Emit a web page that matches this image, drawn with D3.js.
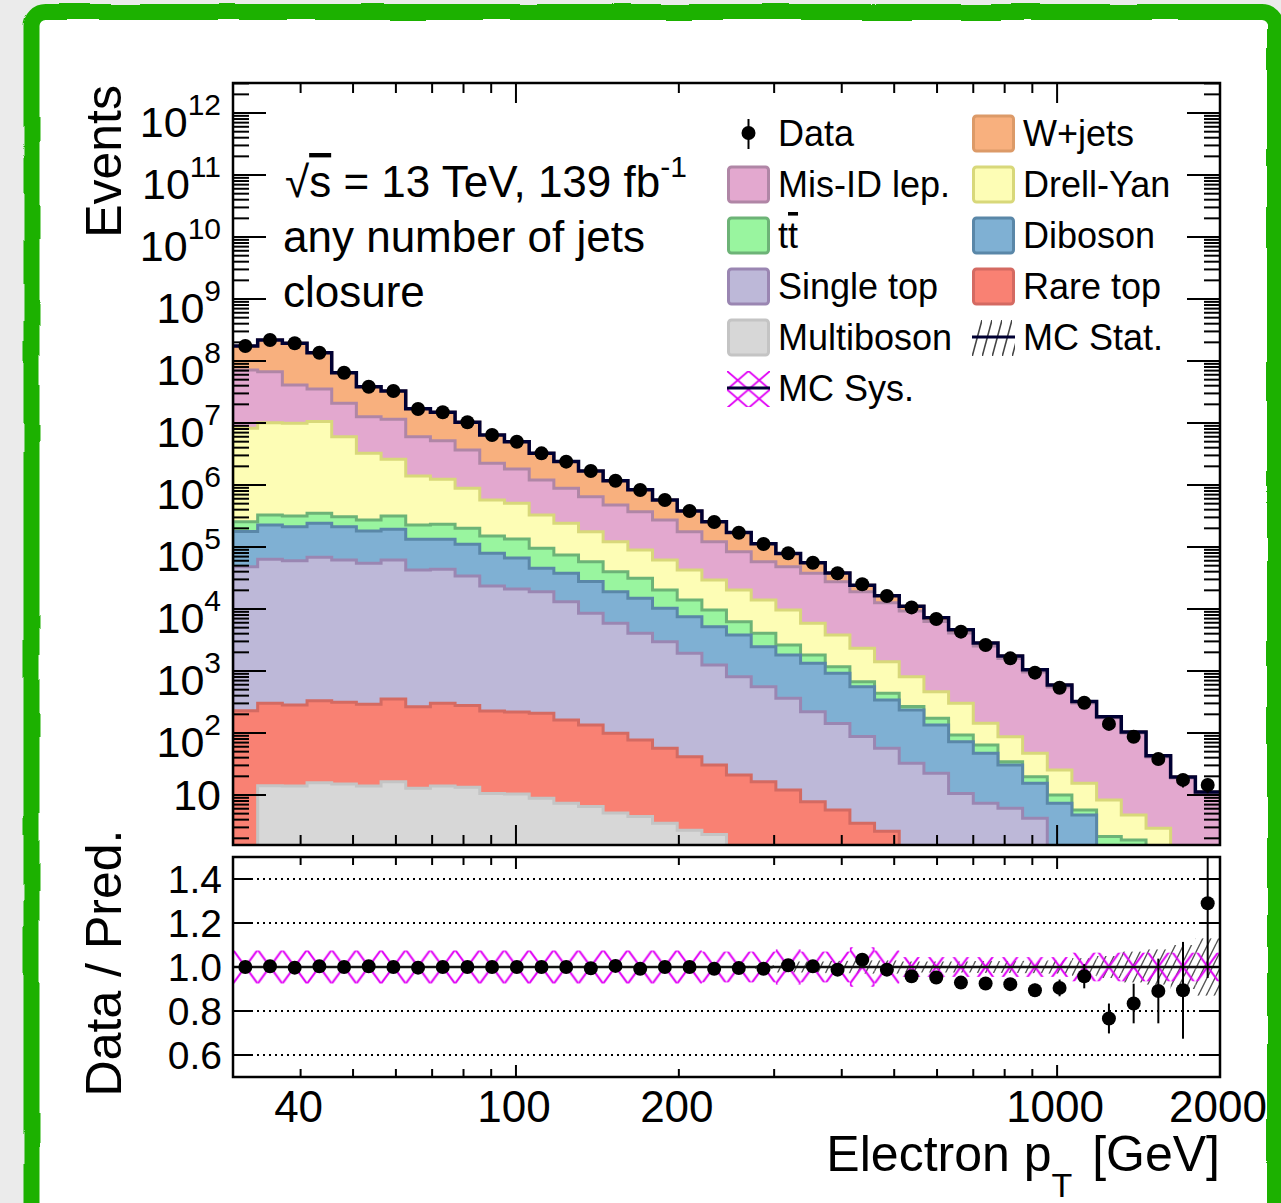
<!DOCTYPE html>
<html>
<head>
<meta charset="utf-8">
<script src="https://cdn.jsdelivr.net/npm/d3@7"></script>
<style>
    body { margin: 0; background: #ebebeb; }
    svg { display: block; font-family: 'Liberation Sans', Arial, Helvetica, sans-serif; }
</style>
</head>
<body>
<div id="graf"></div>
<script>
// Bordes de los 40 bines (GeV)
const bordes = [30.0, 33.32, 37.01, 41.11, 45.66, 50.71, 56.33, 62.56, 69.49, 77.18, 85.72, 95.22, 105.8, 117.5, 130.5, 144.9, 161.0, 178.8, 198.6, 220.6, 244.9, 272.1, 302.2, 335.7, 372.8, 414.1, 459.9, 510.8, 567.4, 630.2, 700.0, 777.5, 863.5, 959.1, 1065, 1183, 1314, 1460, 1621, 1801, 2000]

// Datos observados por bin
const datos = [1.75e8, 2.18e8, 1.93e8, 1.36e8, 6.47e7, 3.85e7, 3.28e7, 1.68e7, 1.49e7, 1.03e7, 6.40e6, 4.99e6, 3.24e6, 2.38e6, 1.68e6, 1.17e6, 8.30e5, 5.73e5, 3.81e5, 2.53e5, 1.70e5, 1.12e5, 7.91e4, 5.58e4, 3.77e4, 2.50e4, 1.62e4, 1.06e4, 6900, 4310, 2620, 1600, 940, 538, 308, 140, 87, 38, 17.5, 14.5]

// Fondos (de abajo hacia arriba en el stack)
const multiboson = [1.2, 14.1, 14.0, 15.8, 15.0, 14.0, 16.4, 12.8, 14.0, 13.3, 10.6, 10.4, 8.85, 7.35, 6.5, 5.1, 4.5, 3.5, 2.7, 2.3, 0, 0, 0, 0, 0, 0, 0, 0, 0, 0, 0, 0, 0, 0, 0, 0, 0, 0, 0, 0]
const rareTop = [228, 287, 269, 316, 298, 276, 337, 253, 287, 263, 216, 208, 199, 155, 128, 94, 72.6, 53.1, 38.8, 28.2, 21.0, 16.4, 12.0, 7.8, 5.7, 3.5, 2.6, 0, 0, 0, 0, 0, 0, 0, 0, 0, 0, 0, 0, 0]
const singleTop = [4.79e4, 6.30e4, 5.98e4, 6.79e4, 6.14e4, 5.43e4, 6.13e4, 4.23e4, 4.34e4, 3.37e4, 2.33e4, 2.08e4, 1.88e4, 1.29e4, 8400, 5780, 3980, 2910, 1890, 1220, 788, 542, 351, 213, 137, 84, 54, 32.5, 22.4, 10.6, 7.35, 6.1, 4.2, 0, 0, 0, 0, 0, 0, 0]
const diboson = [1.29e5, 1.63e5, 1.52e5, 1.73e5, 1.50e5, 1.26e5, 1.31e5, 9.04e4, 8.93e4, 7.70e4, 5.56e4, 4.55e4, 2.63e4, 2.46e4, 1.91e4, 1.31e4, 1.08e4, 7300, 5580, 3940, 3000, 1910, 1450, 1110, 775, 471, 284, 203, 112, 61.8, 39.8, 24.4, 11.2, 7.35, 4.76, 0, 0, 0, 0, 0]
const ttbar = [7.9e4, 1.02e5, 1.04e5, 1.09e5, 9.6e4, 9.1e4, 1.23e5, 9.3e4, 9.9e4, 8.9e4, 7.1e4, 6.85e4, 5.0e4, 3.66e4, 3.03e4, 2.1e4, 1.64e4, 9900, 6500, 4450, 2430, 1590, 810, 480, 252, 114, 96, 31, 38, 20.5, 16.9, 3.9, 4.3, 2.65, 0.97, 2.13, 1.88, 0, 0, 0]
const drellYan = [7.96e6, 9.77e6, 9.57e6, 1.02e7, 5.70e6, 2.97e6, 2.28e6, 1.17e6, 1.01e6, 6.85e5, 4.23e5, 3.72e5, 2.33e5, 1.67e5, 1.19e5, 8.2e4, 5.82e4, 4.15e4, 2.86e4, 1.98e4, 1.40e4, 9940, 7020, 4070, 2640, 1650, 973, 543, 291, 208, 79, 52.8, 27.4, 15.3, 9.7, 6.2, 2.88, 2.9, 0, 0]
const misID = [6.34e7, 5.71e7, 3.11e7, 2.48e7, 1.48e7, 9.36e6, 8.9e6, 4.61e6, 3.95e6, 2.79e6, 1.67e6, 1.30e6, 8.72e5, 6.44e5, 4.70e5, 3.54e5, 2.82e5, 2.10e5, 1.34e5, 9.26e4, 6.38e4, 4.39e4, 3.85e4, 3.18e4, 2.38e4, 1.67e4, 1.12e4, 8480, 5830, 3800, 2390, 1500, 917, 527, 290, 167, 95, 38.1, 18.8, 11.0]
const wJets = [1.03e8, 1.50e8, 1.53e8, 1.01e8, 4.39e7, 2.58e7, 2.13e7, 1.09e7, 9.71e6, 6.63e6, 4.16e6, 3.18e6, 2.04e6, 1.50e6, 1.04e6, 6.94e5, 4.66e5, 3.01e5, 2.04e5, 1.33e5, 8.7e4, 5.51e4, 3.04e4, 1.79e4, 1.06e4, 5200, 3800, 1800, 960, 540, 300, 150, 86, 42, 17, 8, 4, 1.8, 0.7, 0.2]

// Panel inferior: cociente datos / predicción y sus incertidumbres
const cociente = [1.0, 1.003, 0.997, 1.003, 1.0, 1.003, 1.0, 0.997, 1.0, 1.0, 1.0, 1.0, 1.0, 1.0, 0.994, 1.005, 0.992, 1.0, 1.0, 0.992, 0.995, 0.992, 1.008, 1.003, 0.988, 1.033, 0.988, 0.958, 0.952, 0.929, 0.925, 0.922, 0.894, 0.905, 0.958, 0.766, 0.834, 0.891, 0.894, 1.290]
const errCociente = [0.001, 0.001, 0.001, 0.001, 0.001, 0.001, 0.001, 0.001, 0.001, 0.001, 0.001, 0.001, 0.001, 0.001, 0.001, 0.001, 0.001, 0.002, 0.002, 0.002, 0.003, 0.004, 0.005, 0.006, 0.007, 0.009, 0.010, 0.012, 0.014, 0.016, 0.02, 0.025, 0.03, 0.038, 0.055, 0.068, 0.09, 0.147, 0.22, 0.34]
const estMC = [0.003, 0.003, 0.003, 0.003, 0.003, 0.003, 0.003, 0.003, 0.003, 0.003, 0.003, 0.003, 0.003, 0.003, 0.003, 0.003, 0.003, 0.004, 0.004, 0.004, 0.005, 0.008, 0.025, 0.025, 0.028, 0.03, 0.03, 0.025, 0.025, 0.025, 0.027, 0.027, 0.028, 0.03, 0.04, 0.05, 0.07, 0.08, 0.10, 0.13]
const sistMC = [0.075, 0.075, 0.075, 0.075, 0.075, 0.075, 0.075, 0.075, 0.075, 0.075, 0.075, 0.075, 0.075, 0.075, 0.075, 0.075, 0.075, 0.075, 0.075, 0.07, 0.07, 0.07, 0.08, 0.07, 0.07, 0.09, 0.075, 0.045, 0.045, 0.045, 0.045, 0.045, 0.045, 0.045, 0.065, 0.065, 0.065, 0.065, 0.065, 0.065]

// Ejes
const ticksX = [40, 50, 60, 70, 80, 90, 100, 200, 300, 400, 500, 600, 700, 800, 900, 1000, 2000]
const mayoresX = [100, 1000]
const etiquetasX = [40, 100, 200, 1000, 2000]
const exponentesY = [1, 2, 3, 4, 5, 6, 7, 8, 9, 10, 11, 12]
const etiquetasCociente = [0.6, 0.8, 1.0, 1.2, 1.4]
const rejillaCociente = [0.6, 0.8, 1.2, 1.4]

// Procesos del stack con sus colores
const procesos = [
    { nombre: 'Multiboson', valores: multiboson, relleno: '#d7d7d7', linea: '#c4c4c4' },
    { nombre: 'Rare top', valores: rareTop, relleno: '#f98173', linea: '#d46a62' },
    { nombre: 'Single top', valores: singleTop, relleno: '#bdb8d8', linea: '#9a86b2' },
    { nombre: 'Diboson', valores: diboson, relleno: '#7fb0d3', linea: '#5a87a8' },
    { nombre: 'tt', valores: ttbar, relleno: '#99f59f', linea: '#6db377' },
    { nombre: 'Drell-Yan', valores: drellYan, relleno: '#fdfdb5', linea: '#d8d87a' },
    { nombre: 'Mis-ID lep.', valores: misID, relleno: '#e3a8cf', linea: '#b086a6' },
    { nombre: 'W+jets', valores: wJets, relleno: '#f8b07e', linea: '#dc9a68' }
]

function load() {
    const ancho = 1281
    const alto = 1203
    const izq = 233, der = 1220
    const arriba = 83, abajo = 845
    const rArriba = 857, rAbajo = 1077
    const yMin = 1.56
    const radio = 7

    const svg = d3.select('#graf')
        .append('svg')
        .attr('width', ancho)
        .attr('height', alto)

    const defs = svg.append('defs')

    // Filtro para el borde ondulado
    const filtro = defs.append('filter').attr('id', 'temblor')
        .attr('x', '-5%').attr('y', '-5%').attr('width', '110%').attr('height', '110%')
    filtro.append('feTurbulence').attr('type', 'fractalNoise').attr('baseFrequency', 0.02)
        .attr('numOctaves', 1).attr('seed', 4).attr('result', 'ruido')
    filtro.append('feDisplacementMap').attr('in', 'SourceGraphic').attr('in2', 'ruido')
        .attr('scale', 4).attr('xChannelSelector', 'R').attr('yChannelSelector', 'G')

    defs.append('clipPath').attr('id', 'clipSup').append('rect')
        .attr('x', izq).attr('y', arriba).attr('width', der - izq).attr('height', abajo - arriba)
    defs.append('clipPath').attr('id', 'clipRat').append('rect')
        .attr('x', izq).attr('y', rArriba).attr('width', der - izq).attr('height', rAbajo - rArriba)

    // Patrones de las bandas de incertidumbre
    const cruz = defs.append('pattern').attr('id', 'cruz').attr('patternUnits', 'userSpaceOnUse')
        .attr('x', izq).attr('y', 949.7).attr('width', 24.675).attr('height', 34)
    cruz.append('path').attr('d', 'M0,0L24.675,34M0,34L24.675,0')
        .attr('stroke', '#e000f5').attr('stroke-width', 2).attr('fill', 'none')

    const rayas = defs.append('pattern').attr('id', 'rayas').attr('patternUnits', 'userSpaceOnUse')
        .attr('width', 8).attr('height', 16)
    rayas.append('path').attr('d', 'M0,16L8,0M-4,8L0,0M8,16L12,8')
        .attr('stroke', '#555').attr('stroke-width', 1.4).attr('fill', 'none')

    const cruzLey = defs.append('pattern').attr('id', 'cruzLey').attr('patternUnits', 'userSpaceOnUse')
        .attr('x', 727).attr('y', 371).attr('width', 21.5).attr('height', 18.5)
    cruzLey.append('path').attr('d', 'M0,0L21.5,18.5M0,18.5L21.5,0')
        .attr('stroke', '#e000f5').attr('stroke-width', 1.8).attr('fill', 'none')

    const rayasLey = defs.append('pattern').attr('id', 'rayasLey').attr('patternUnits', 'userSpaceOnUse')
        .attr('x', 972).attr('y', 320).attr('width', 10).attr('height', 37)
    rayasLey.append('path').attr('d', 'M0,37L10,0')
        .attr('stroke', '#444').attr('stroke-width', 1.6).attr('fill', 'none')

    // Fondo y marco verde
    svg.append('rect').attr('width', ancho).attr('height', alto).attr('fill', '#ebebeb')
    svg.append('rect')
        .attr('x', 31.5).attr('y', 12)
        .attr('width', 1243.5).attr('height', 1260)
        .attr('rx', 14)
        .attr('fill', 'white')
        .attr('stroke', '#1db100')
        .attr('stroke-width', 16)
        .attr('filter', 'url(#temblor)')

    // Escalas
    const x = d3.scaleLog().domain([30, 2000]).range([izq, der])
    const y = d3.scaleLog().domain([yMin, 3.05e12]).range([abajo, arriba])
    const yr = d3.scaleLinear().domain([0.5, 1.5]).range([rAbajo, rArriba])

    // Tabla para el stack
    const tabla = datos.map((d, i) => {
        const fila = {}
        procesos.forEach(p => { fila[p.nombre] = p.valores[i] })
        return fila
    })
    const capas = d3.stack().keys(procesos.map(p => p.nombre))(tabla)

    const yTope = v => v > yMin ? y(v) : abajo + 12
    const escalon = d3.line()
    const puntosCapa = (capa, cerrar) => {
        const pts = cerrar ? [[x(bordes[0]), abajo + 12]] : []
        capa.forEach((d, i) => {
            pts.push([x(bordes[i]), yTope(d[1])])
            pts.push([x(bordes[i + 1]), yTope(d[1])])
        })
        if (cerrar) pts.push([x(bordes[bordes.length - 1]), abajo + 12])
        return pts
    }

    // Histogramas apilados (se dibuja primero el de arriba)
    const gHist = svg.append('g').attr('clip-path', 'url(#clipSup)')
    capas.slice().reverse().forEach(capa => {
        const p = procesos[capa.index]
        gHist.append('path')
            .attr('d', escalon(puntosCapa(capa, true)) + 'Z')
            .attr('fill', p.relleno)
            .attr('stroke', p.linea)
            .attr('stroke-width', 3)
    })

    // Línea del total
    gHist.append('path')
        .attr('d', escalon(puntosCapa(capas[capas.length - 1], false)))
        .attr('fill', 'none')
        .attr('stroke', '#000033')
        .attr('stroke-width', 3.5)

    // Puntos de datos
    const centro = i => x(Math.sqrt(bordes[i] * bordes[i + 1]))
    const gDatos = svg.append('g').attr('clip-path', 'url(#clipSup)')
    datos.forEach((d, i) => {
        const err = d * errCociente[i] / cociente[i]
        gDatos.append('line')
            .attr('x1', centro(i)).attr('x2', centro(i))
            .attr('y1', y(d + err)).attr('y2', y(Math.max(d - err, yMin)))
            .attr('stroke', 'black').attr('stroke-width', 2)
        gDatos.append('circle')
            .attr('cx', centro(i)).attr('cy', y(d))
            .attr('r', radio).attr('fill', 'black')
    })

    // Marco del panel superior
    svg.append('rect')
        .attr('x', izq).attr('y', arriba).attr('width', der - izq).attr('height', abajo - arriba)
        .attr('fill', 'none').attr('stroke', 'black').attr('stroke-width', 2.5)

    // Marcas del eje Y (log)
    const gTicks = svg.append('g').attr('stroke', 'black').attr('stroke-width', 2)
    d3.range(0, 13).forEach(e => {
        d3.range(1, 10).forEach(f => {
            const v = f * Math.pow(10, e)
            if (v < yMin || v > 3.05e12) return
            const largo = f === 1 ? 33 : 16
            gTicks.append('line').attr('x1', izq).attr('x2', izq + largo).attr('y1', y(v)).attr('y2', y(v))
            gTicks.append('line').attr('x1', der).attr('x2', der - largo).attr('y1', y(v)).attr('y2', y(v))
        })
    })

    // Marcas del eje X en ambos paneles
    ticksX.forEach(t => {
        const mayor = mayoresX.includes(t)
        const xs = x(t)
        gTicks.append('line').attr('x1', xs).attr('x2', xs).attr('y1', abajo).attr('y2', abajo - (mayor ? 20 : 10))
        gTicks.append('line').attr('x1', xs).attr('x2', xs).attr('y1', arriba).attr('y2', arriba + (mayor ? 20 : 10))
        gTicks.append('line').attr('x1', xs).attr('x2', xs).attr('y1', rAbajo).attr('y2', rAbajo - (mayor ? 12 : 8))
        gTicks.append('line').attr('x1', xs).attr('x2', xs).attr('y1', rArriba).attr('y2', rArriba + (mayor ? 12 : 8))
    })

    // Etiquetas del eje Y superior
    exponentesY.forEach(e => {
        const t = svg.append('text')
            .attr('x', 221)
            .attr('y', y(Math.pow(10, e)) + (e > 1 ? 24 : 15))
            .attr('text-anchor', 'end')
            .attr('font-size', 43)
        t.append('tspan').text('10')
        if (e > 1) t.append('tspan').attr('dy', -22).attr('font-size', 30).text(e)
    })

    // Título del eje Y
    svg.append('text')
        .attr('transform', `translate(121, ${arriba + 2}) rotate(-90)`)
        .attr('text-anchor', 'end')
        .attr('font-size', 50)
        .text('Events')

    // Textos de la figura
    const info = svg.append('text').attr('x', 285).attr('y', 197).attr('font-size', 44)
    info.append('tspan').text('√')
    info.append('tspan').style('text-decoration', 'overline').text('s')
    info.append('tspan').text(' = 13 TeV, 139 fb')
    info.append('tspan').attr('dy', -20).attr('font-size', 30).text('-1')
    svg.append('text').attr('x', 283).attr('y', 252).attr('font-size', 44).text('any number of jets')
    svg.append('text').attr('x', 283).attr('y', 307).attr('font-size', 44).text('closure')

    // Leyenda
    const colIzq = 727, colDer = 972, fila0 = 133, paso = 51
    const cajaLeyenda = (cx, fy, p) => {
        svg.append('rect')
            .attr('x', cx + 1.5).attr('y', fy - 17)
            .attr('width', 40).attr('height', 35).attr('rx', 3)
            .attr('fill', p.relleno).attr('stroke', p.linea).attr('stroke-width', 3)
    }
    const textoLeyenda = (cx, fy, texto) => svg.append('text')
        .attr('x', cx + 51).attr('y', fy + 13).attr('font-size', 36).text(texto)

    const porNombre = n => procesos.find(p => p.nombre === n)
    const filasLeyenda = [
        ['Data', 'W+jets'],
        ['Mis-ID lep.', 'Drell-Yan'],
        ['tt', 'Diboson'],
        ['Single top', 'Rare top'],
        ['Multiboson', 'MC Stat.'],
        ['MC Sys.', null]
    ]
    filasLeyenda.forEach((fila, k) => {
        const fy = fila0 + k * paso
        fila.forEach((nombre, c) => {
            if (!nombre) return
            const cx = c === 0 ? colIzq : colDer
            if (nombre === 'Data') {
                svg.append('line').attr('x1', cx + 21.5).attr('x2', cx + 21.5)
                    .attr('y1', fy - 14).attr('y2', fy + 16).attr('stroke', 'black').attr('stroke-width', 2)
                svg.append('circle').attr('cx', cx + 21.5).attr('cy', fy).attr('r', radio).attr('fill', 'black')
                textoLeyenda(cx, fy, nombre)
            } else if (nombre === 'MC Stat.') {
                svg.append('rect').attr('x', cx).attr('y', fy - 17).attr('width', 43).attr('height', 36)
                    .attr('fill', 'url(#rayasLey)')
                svg.append('line').attr('x1', cx).attr('x2', cx + 43).attr('y1', fy).attr('y2', fy)
                    .attr('stroke', '#000033').attr('stroke-width', 3)
                textoLeyenda(cx, fy, nombre)
            } else if (nombre === 'MC Sys.') {
                svg.append('rect').attr('x', cx).attr('y', fy - 17).attr('width', 43).attr('height', 36)
                    .attr('fill', 'url(#cruzLey)')
                svg.append('line').attr('x1', cx).attr('x2', cx + 43).attr('y1', fy).attr('y2', fy)
                    .attr('stroke', '#000033').attr('stroke-width', 3)
                textoLeyenda(cx, fy, nombre)
            } else if (nombre === 'tt') {
                cajaLeyenda(cx, fy, porNombre(nombre))
                const t = textoLeyenda(cx, fy, '')
                t.append('tspan').text('t')
                t.append('tspan').style('text-decoration', 'overline').text('t')
            } else {
                cajaLeyenda(cx, fy, porNombre(nombre))
                textoLeyenda(cx, fy, nombre)
            }
        })
    })

    // ---- Panel del cociente ----
    const gRat = svg.append('g').attr('clip-path', 'url(#clipRat)')

    // Banda de estadística MC
    estMC.forEach((s, i) => {
        gRat.append('rect')
            .attr('x', x(bordes[i])).attr('width', x(bordes[i + 1]) - x(bordes[i]))
            .attr('y', yr(1 + s)).attr('height', yr(1 - s) - yr(1 + s))
            .attr('fill', 'url(#rayas)')
    })
    // Banda sistemática MC
    sistMC.forEach((s, i) => {
        gRat.append('rect')
            .attr('x', x(bordes[i])).attr('width', x(bordes[i + 1]) - x(bordes[i]))
            .attr('y', yr(1 + s)).attr('height', yr(1 - s) - yr(1 + s))
            .attr('fill', 'url(#cruz)')
    })

    // Líneas de referencia
    rejillaCociente.forEach(v => {
        gRat.append('line')
            .attr('x1', izq).attr('x2', der).attr('y1', yr(v)).attr('y2', yr(v))
            .attr('stroke', 'black').attr('stroke-width', 1.8).attr('stroke-dasharray', '2,4')
    })
    gRat.append('line')
        .attr('x1', izq).attr('x2', der).attr('y1', yr(1)).attr('y2', yr(1))
        .attr('stroke', '#111').attr('stroke-width', 2.5)

    // Puntos del cociente
    cociente.forEach((r, i) => {
        gRat.append('line')
            .attr('x1', centro(i)).attr('x2', centro(i))
            .attr('y1', yr(r + errCociente[i])).attr('y2', yr(r - errCociente[i]))
            .attr('stroke', 'black').attr('stroke-width', 2)
        gRat.append('circle')
            .attr('cx', centro(i)).attr('cy', yr(r))
            .attr('r', radio).attr('fill', 'black')
    })

    svg.append('rect')
        .attr('x', izq).attr('y', rArriba).attr('width', der - izq).attr('height', rAbajo - rArriba)
        .attr('fill', 'none').attr('stroke', 'black').attr('stroke-width', 2.5)

    etiquetasCociente.forEach(v => {
        gTicks.append('line').attr('x1', izq).attr('x2', izq + 20).attr('y1', yr(v)).attr('y2', yr(v))
        gTicks.append('line').attr('x1', der).attr('x2', der - 20).attr('y1', yr(v)).attr('y2', yr(v))
        svg.append('text')
            .attr('x', 222).attr('y', yr(v) + 14)
            .attr('text-anchor', 'end').attr('font-size', 39)
            .text(d3.format('.1f')(v))
    })
    gTicks.raise()

    // Etiquetas del eje X
    etiquetasX.forEach(t => {
        svg.append('text')
            .attr('x', x(t) - 2).attr('y', 1122)
            .attr('text-anchor', 'middle').attr('font-size', 44)
            .text(t)
    })

    svg.append('text')
        .attr('transform', `translate(121, ${(rArriba + rAbajo) / 2 - 4}) rotate(-90)`)
        .attr('text-anchor', 'middle')
        .attr('font-size', 50)
        .text('Data / Pred.')

    const tituloX = svg.append('text')
        .attr('x', der).attr('y', 1171)
        .attr('text-anchor', 'end').attr('font-size', 50)
    tituloX.append('tspan').text('Electron p')
    tituloX.append('tspan').attr('dy', 26).attr('font-size', 34).text('T')
    tituloX.append('tspan').attr('dy', -26).attr('dx', 6).text(' [GeV]')
}

// Se carga la gráfica
load()
</script>
</body>
</html>
